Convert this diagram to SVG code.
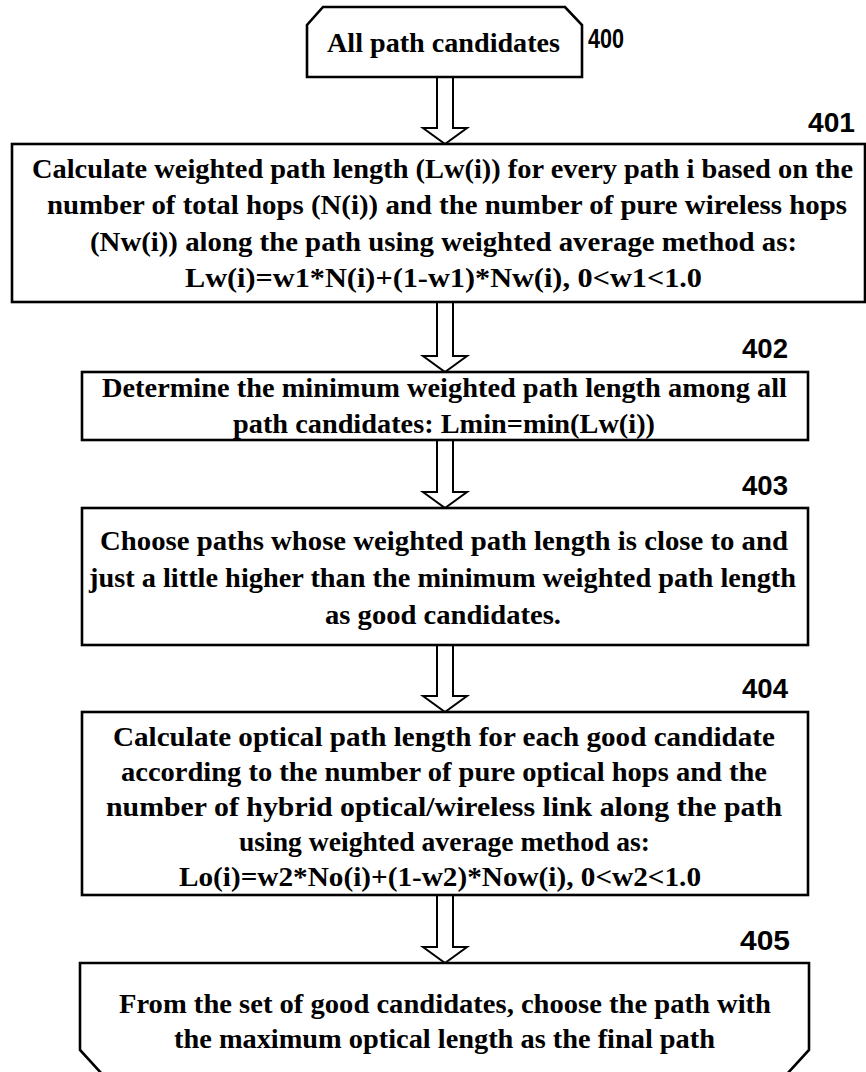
<svg xmlns="http://www.w3.org/2000/svg" width="866" height="1072" viewBox="0 0 866 1072">
<style>
.box{fill:#fff;stroke:#000;stroke-width:2.6}
.arr{fill:#fff;stroke:#000;stroke-width:2;stroke-linejoin:miter}
.t{font-family:"Liberation Serif","Times New Roman",serif;font-weight:bold;font-size:28px;fill:#000}
.lbl{font-family:"Liberation Sans",Arial,sans-serif;font-weight:bold;font-size:28px;fill:#000}
</style>
<rect x="0" y="0" width="866" height="1072" fill="#fff"/>
<g id="connectors">
<polygon class="arr" points="437,77 437,128 423,128 445,144 467,128 453,128 453,77"/>
<polygon class="arr" points="437,302 437,356 423,356 445,372 467,356 453,356 453,302"/>
<polygon class="arr" points="437,440 437,492 423,492 445,508 467,492 453,492 453,440"/>
<polygon class="arr" points="437,645 437,696 423,696 445,712 467,696 453,696 453,645"/>
<polygon class="arr" points="437,895 437,947 423,947 445,963 467,947 453,947 453,895"/>
</g>
<g id="n400">
<path class="box" stroke-width="2" d="M307,77 L307,25 L323,7 L565,7 L582,25 L582,77 Z"/>
<text class="t" x="327" y="52" textLength="233" lengthAdjust="spacingAndGlyphs">All path candidates</text>
<text class="lbl" x="588" y="48" font-size="25" textLength="36" lengthAdjust="spacingAndGlyphs">400</text>
</g>
<g id="n401">
<rect class="box" x="12" y="144" width="853" height="158"/>
<text class="lbl" x="808" y="132" textLength="47" lengthAdjust="spacingAndGlyphs">401</text>
<text class="t" x="32" y="178" textLength="821" lengthAdjust="spacingAndGlyphs">Calculate weighted path length (Lw(i)) for every path i based on the</text>
<text class="t" x="47" y="214" textLength="800" lengthAdjust="spacingAndGlyphs">number of total hops (N(i)) and the number of pure wireless hops</text>
<text class="t" x="90" y="251" textLength="707" lengthAdjust="spacingAndGlyphs">(Nw(i)) along the path using weighted average method as:</text>
<text class="t" x="185" y="287" textLength="517" lengthAdjust="spacingAndGlyphs">Lw(i)=w1*N(i)+(1-w1)*Nw(i), 0&lt;w1&lt;1.0</text>
</g>
<g id="n402">
<rect class="box" x="82" y="372" width="726" height="68"/>
<text class="lbl" x="742" y="358" textLength="46" lengthAdjust="spacingAndGlyphs">402</text>
<text class="t" x="102" y="397" textLength="685" lengthAdjust="spacingAndGlyphs">Determine the minimum weighted path length among all</text>
<text class="t" x="233" y="433" textLength="422" lengthAdjust="spacingAndGlyphs">path candidates: Lmin=min(Lw(i))</text>
</g>
<g id="n403">
<rect class="box" x="82" y="508" width="726" height="137"/>
<text class="lbl" x="742" y="495" textLength="46" lengthAdjust="spacingAndGlyphs">403</text>
<text class="t" x="100" y="550" textLength="688" lengthAdjust="spacingAndGlyphs">Choose paths whose weighted path length is close to and</text>
<text class="t" x="89" y="587" textLength="707" lengthAdjust="spacingAndGlyphs">just a little higher than the minimum weighted path length</text>
<text class="t" x="325" y="624" textLength="236" lengthAdjust="spacingAndGlyphs">as good candidates.</text>
</g>
<g id="n404">
<rect class="box" x="82" y="712" width="726" height="183"/>
<text class="lbl" x="742" y="698" textLength="46" lengthAdjust="spacingAndGlyphs">404</text>
<text class="t" x="113" y="746" textLength="662" lengthAdjust="spacingAndGlyphs">Calculate optical path length for each good candidate</text>
<text class="t" x="121" y="781" textLength="646" lengthAdjust="spacingAndGlyphs">according to the number of pure optical hops and the</text>
<text class="t" x="106" y="816" textLength="676" lengthAdjust="spacingAndGlyphs">number of hybrid optical/wireless link along the path</text>
<text class="t" x="239" y="851" textLength="411" lengthAdjust="spacingAndGlyphs">using weighted average method as:</text>
<text class="t" x="179" y="886" textLength="522" lengthAdjust="spacingAndGlyphs">Lo(i)=w2*No(i)+(1-w2)*Now(i), 0&lt;w2&lt;1.0</text>
</g>
<g id="n405">
<path class="box" d="M102,1074 L80,1050 L80,963 L809,963 L809,1050 L787,1074"/>
<text class="lbl" x="740" y="950" textLength="50" lengthAdjust="spacingAndGlyphs">405</text>
<text class="t" x="119" y="1013" textLength="652" lengthAdjust="spacingAndGlyphs">From the set of good candidates, choose the path with</text>
<text class="t" x="174" y="1048" textLength="541" lengthAdjust="spacingAndGlyphs">the maximum optical length as the final path</text>
</g>
</svg>
